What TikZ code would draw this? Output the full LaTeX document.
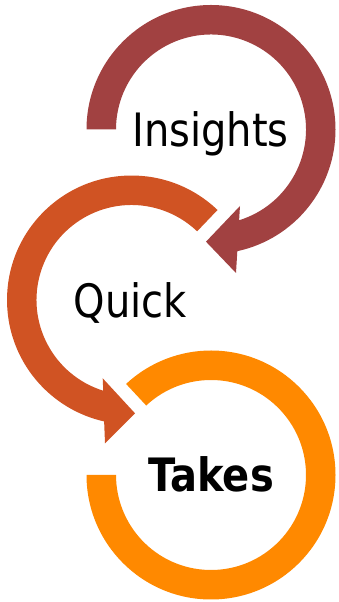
\documentclass[tikz,border=0pt]{standalone}
\usepackage{fontspec}
\setmainfont{DejaVu Sans}[FakeStretch=0.87]
\definecolor{ringred}{RGB}{161,65,65}
\definecolor{ringorangered}{RGB}{208,83,35}
\definecolor{ringorange}{RGB}{255,137,0}
\tikzset{
  lbl/.style={anchor=base, inner sep=0pt, font=\fontsize{46}{50}\selectfont, text=black}
}
\begin{document}
\begin{tikzpicture}[x=1pt,y=1pt]
\useasboundingbox (0,0) rectangle (338,602);
\coordinate (C1) at (211,472.5);
\coordinate (C2) at (131.5,302);
\coordinate (C3) at (211,127);
% third ring (orange, no arrow)
\begin{scope}[shift={(C3)}]
\fill[ringorange] (180:124.5pt) arc[start angle=180,end angle=493,radius=124.5pt]
  -- (493:95pt) arc[start angle=493,end angle=180,radius=95pt] -- cycle;
\end{scope}
% second ring (orange-red) with arrow
\begin{scope}[shift={(C2)}]
\fill[ringorangered] (46.3:124.5pt) arc[start angle=46.3,end angle=257.3,radius=124.5pt]
  -- (-26.5,-143.3) -- (3.5,-113.3) -- (-28.8,-78.3)
  -- (252.7:95pt) arc[start angle=252.7,end angle=46.3,radius=95pt] -- cycle;
\end{scope}
% first ring (red) with arrow
\begin{scope}[shift={(C1)}]
\fill[ringred] (180:124.5pt) arc[start angle=180,end angle=-77.8,radius=124.5pt]
  -- (25,-143.5) -- (-5,-112.2) -- (29,-76.5)
  -- (-72.8:95pt) arc[start angle=-72.8,end angle=180,radius=95pt] -- cycle;
\end{scope}
\node[lbl] (insights) at (210.5,455) {Insights};
\node[lbl] (quick) at (130.5,284) {Quick};
\node[lbl,font=\fontsize{46}{50}\selectfont\bfseries] (takes) at (211,110) {Takes};
\end{tikzpicture}
\end{document}
